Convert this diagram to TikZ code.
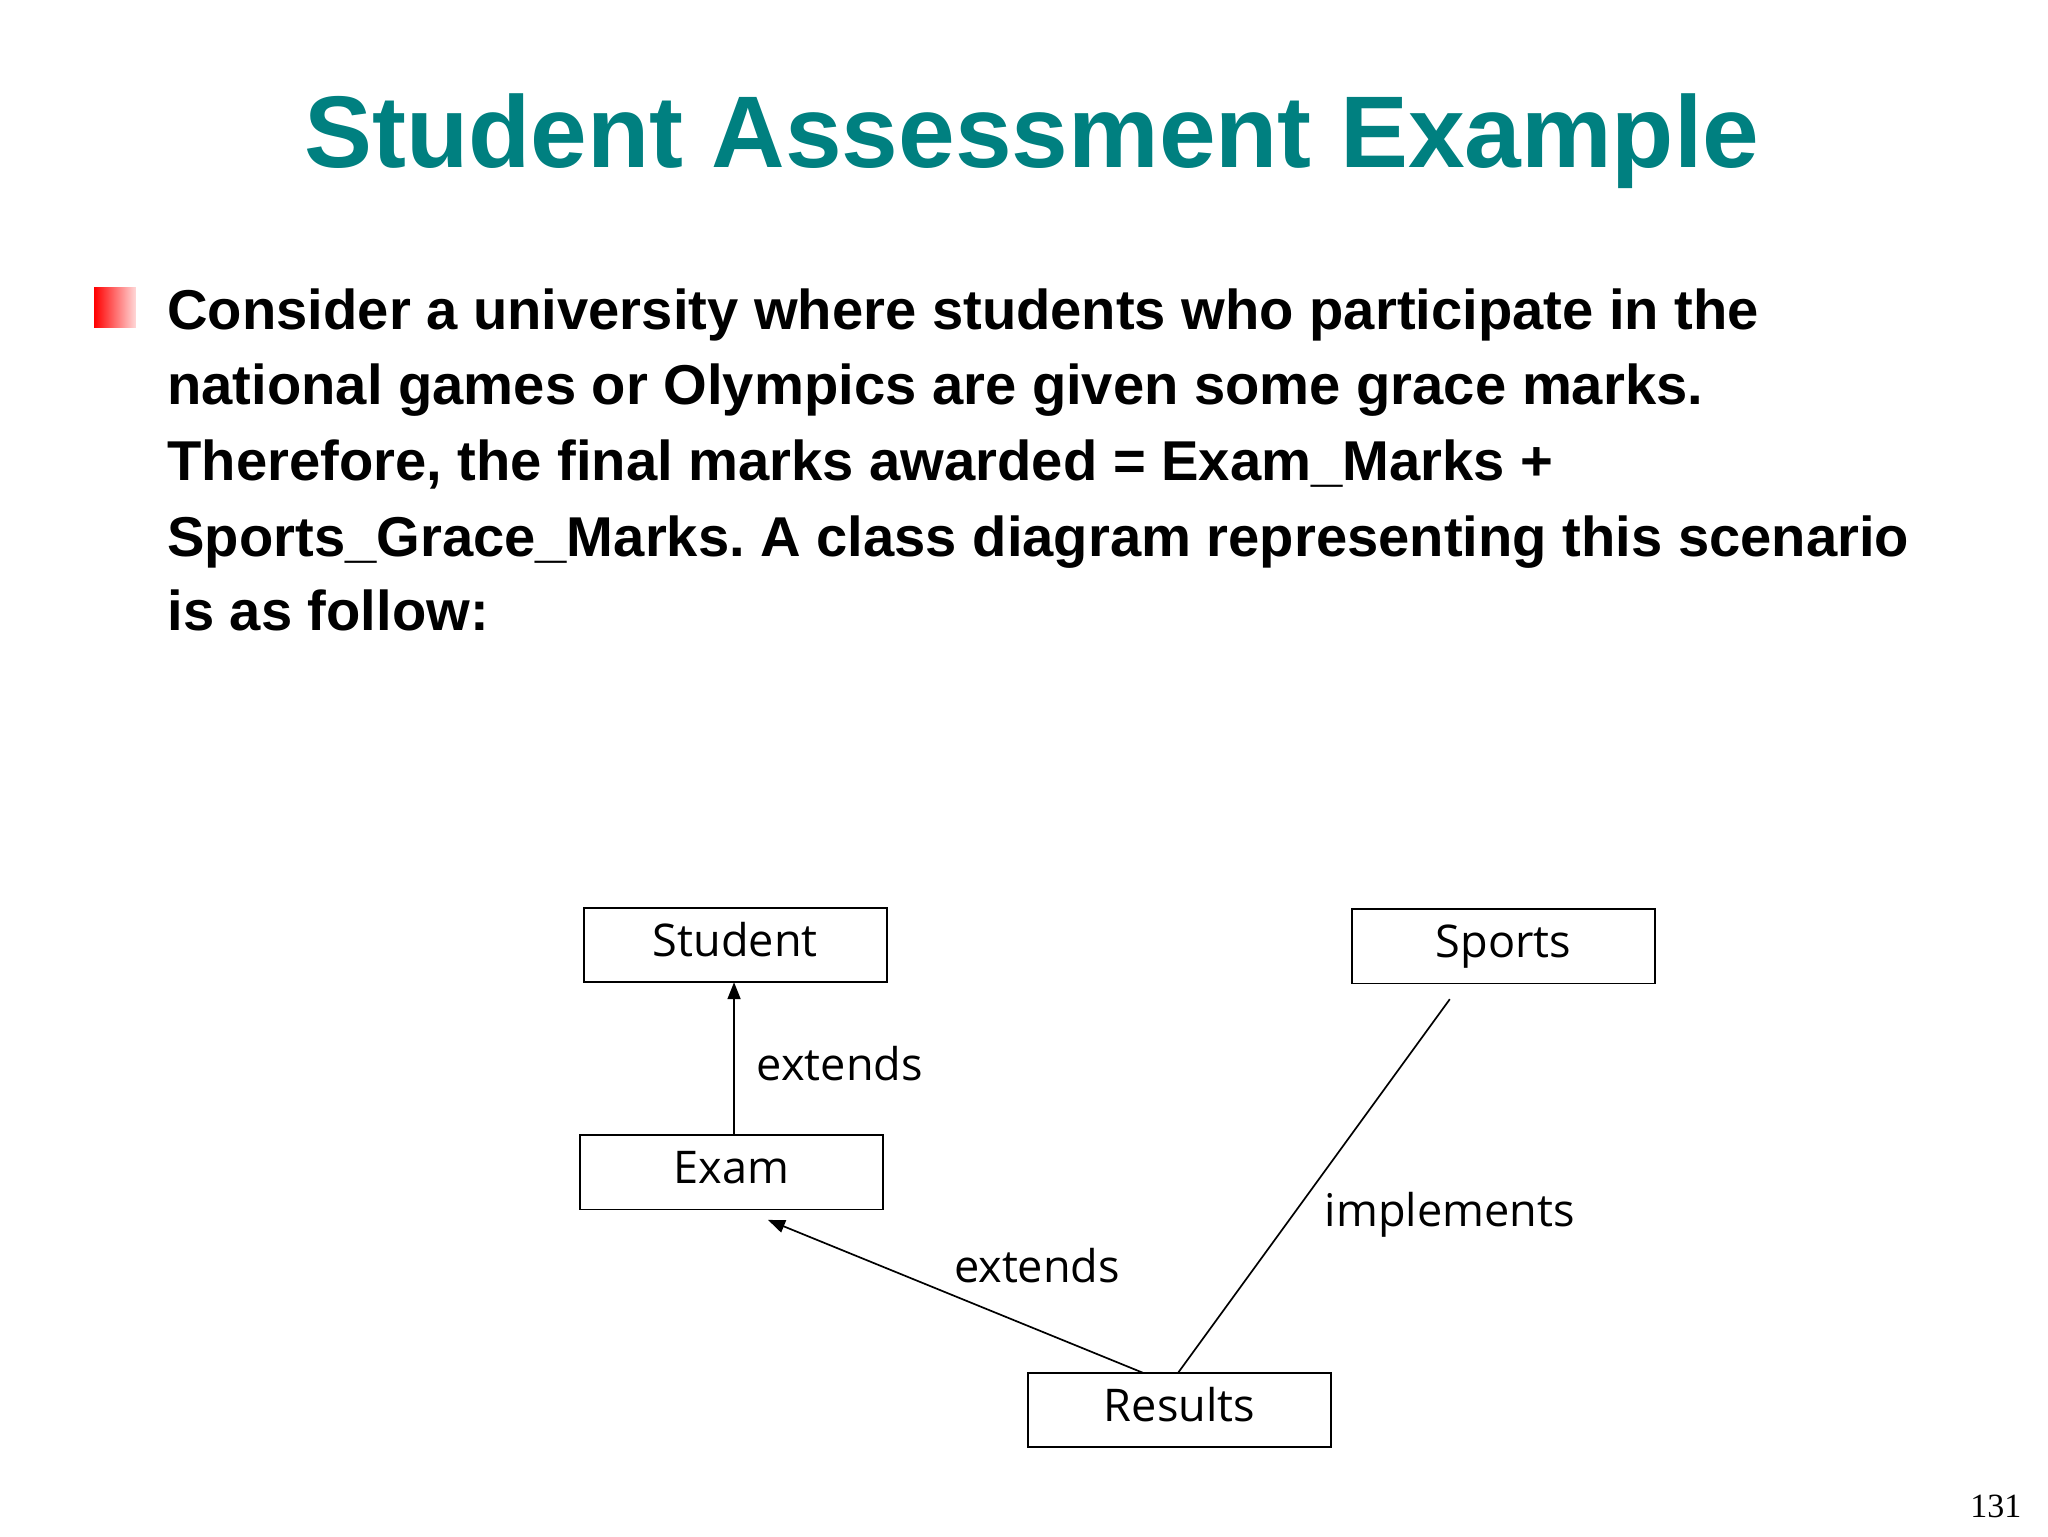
\documentclass[tikz,border=0pt]{standalone}
\usepackage{fontspec}
\setmainfont{Liberation Sans}
\newfontfamily\boxfont{Open Sans}
\newfontfamily\numfont{Liberation Serif}
\usetikzlibrary{arrows.meta}
\definecolor{teal0}{RGB}{0,128,128}
\frenchspacing
\begin{document}
\begin{tikzpicture}[x=1pt,y=-1pt,
  cls/.style={draw,line width=1.3pt,minimum width=232pt,minimum height=57pt,inner sep=0pt,text height=25pt,text depth=8pt,font=\boxfont\fontsize{34.5}{40}\selectfont},
  lbl/.style={font=\boxfont\fontsize{34.5}{40}\selectfont},
  body/.style={anchor=base west,inner sep=0pt,font=\bfseries\fontsize{43}{50}\selectfont},
  conn/.style={line width=1.3pt},
  tip/.style={-{Triangle[length=13pt,width=10pt]}}]
\useasboundingbox (0,0) rectangle (1568,1176);
\fill[white] (0,0) rectangle (1568,1176);
\node[anchor=base,inner sep=0pt,text=teal0,font=\bfseries\fontsize{78}{90}\selectfont] (title) at (790,128) {Student Assessment Example};
\shade[left color=red,right color=red!15] (72,220) rectangle (104,251);
\node[body] (l1) at (128,252) {Consider a university where students who participate in the};
\node[body] (l2) at (128,310) {national games or Olympics are given some grace marks.};
\node[body] (l3) at (128,368) {Therefore, the final marks awarded = Exam\_Marks +};
\node[body] (l4) at (128,426) {Sports\_Grace\_Marks. A class diagram representing this scenario};
\node[body] (l5) at (128,483) {is as follow:};
\node[cls] (student) at (563,723.5) {Student};
\node[cls] (sports) at (1151,724.5) {Sports};
\node[cls] (exam) at (560,897.5) {Exam};
\node[cls] (results) at (903,1079.5) {Results};
\coordinate (e1) at (562,869);
\coordinate (s1) at (562,752);
\coordinate (r1) at (875,1051);
\coordinate (x1) at (588,934);
\coordinate (sp1) at (1110,765);
\coordinate (r2) at (902,1051);
\draw[conn,tip] (e1) -- (s1);
\draw[conn,tip] (r1) -- (x1);
\draw[conn] (sp1) -- (r2);
\node[lbl] (t1) at (643,814) {extends};
\node[lbl] (t2) at (794,969) {extends};
\node[lbl] (t3) at (1110,930) {implements};
\node[anchor=base,inner sep=0pt,font=\numfont\fontsize{26}{30}\selectfont] (pg) at (1528,1162) {131};
\end{tikzpicture}
\end{document}
